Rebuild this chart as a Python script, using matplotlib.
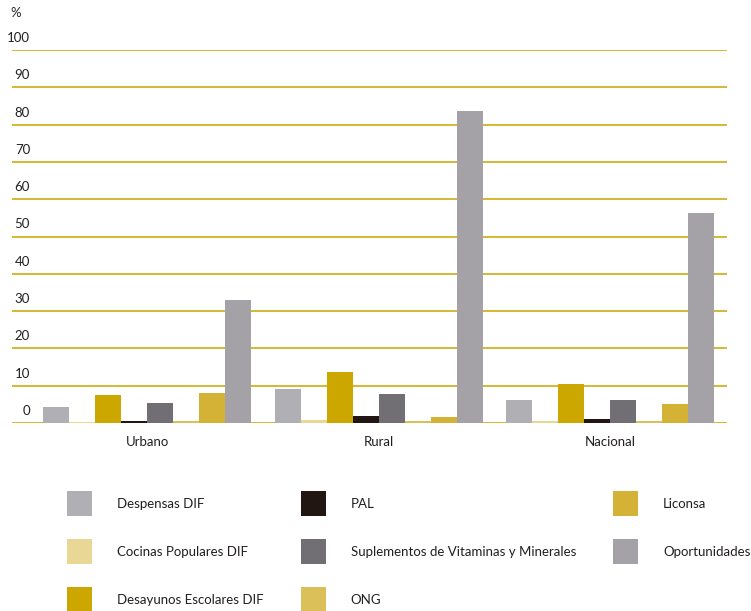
import numpy as np
import matplotlib
matplotlib.use("Agg")
import matplotlib.pyplot as plt

plt.rcParams['font.family'] = ['Lato', 'DejaVu Sans']

# data (percent)
groups = ["Urbano", "Rural", "Nacional"]
programs = ["Despensas DIF", "Cocinas Populares DIF", "Desayunos Escolares DIF",
            "PAL", "Suplementos de Vitaminas y Minerales", "ONG",
            "Liconsa", "Oportunidades"]
despensas = [4.3, 9.0, 6.3]
cocinas = [0.3, 0.7, 0.5]
desayunos = [7.5, 13.6, 10.4]
pal = [0.5, 1.8, 1.0]
suplementos = [5.3, 7.7, 6.3]
ong = [0.6, 0.5, 0.5]
liconsa = [8.0, 1.5, 5.0]
oportunidades = [32.9, 83.6, 56.4]
yticks = [0, 10, 20, 30, 40, 50, 60, 70, 80, 90, 100]

colors = ["#b0afb4", "#e9d796", "#cca700", "#211612",
          "#716f74", "#dbc05a", "#d3b236", "#a4a1a7"]
txt = "#231f20"

series = [despensas, cocinas, desayunos, pal, suplementos, ong, liconsa, oportunidades]

fig = plt.figure(figsize=(7.51, 6.11), dpi=100)
W, H = 751, 611
ax = fig.add_axes([12 / W, (H - 423) / H, (727 - 12) / W, (423 - 50) / H])

centers = np.arange(len(groups)) * 8.9
offsets = np.arange(len(programs)) - 3.5
handles = []
for i, (vals, col) in enumerate(zip(series, colors)):
    b = ax.bar(centers + offsets[i], vals, width=1.0, color=col, label=programs[i], zorder=3)
    handles.append(b)

ax.set_xlim(-5.21, 22.29)
ax.set_ylim(0, 100)
ax.set_yticks([])
for v in yticks:
    ax.axhline(v, color="#d6b834", lw=1.4, zorder=1)
    ax.annotate(str(v), xy=(0, v), xycoords=ax.get_yaxis_transform(),
                xytext=(18, 12), textcoords="offset pixels",
                ha="right", va="center", fontsize=9.5, color=txt)
ax.annotate("%", xy=(0, 100), xycoords=ax.get_yaxis_transform(),
            xytext=(-2, 37), textcoords="offset pixels",
            ha="left", va="center", fontsize=9.5, color=txt)

ax.set_xticks(centers)
ax.set_xticklabels(groups, fontsize=9.5, color=txt)
ax.tick_params(axis="x", length=0, pad=9)
for s in ax.spines.values():
    s.set_visible(False)

# legend: 25 px square swatches, 48 px row pitch
fs = 9.5
px = fs * 100 / 72
hh = (25 / px - 0.245) / 0.65
fig.legend(handles=handles, labels=programs, loc="upper left",
           bbox_to_anchor=(67 / W, 1 - 491 / H), ncol=3, frameon=False,
           fontsize=fs, handlelength=25 / px, handleheight=hh,
           handletextpad=25 / px, columnspacing=37 / px,
           labelspacing=(48 - 25) / px, borderpad=0, borderaxespad=0,
           labelcolor=txt)

fig.savefig("out.png", dpi=100)
